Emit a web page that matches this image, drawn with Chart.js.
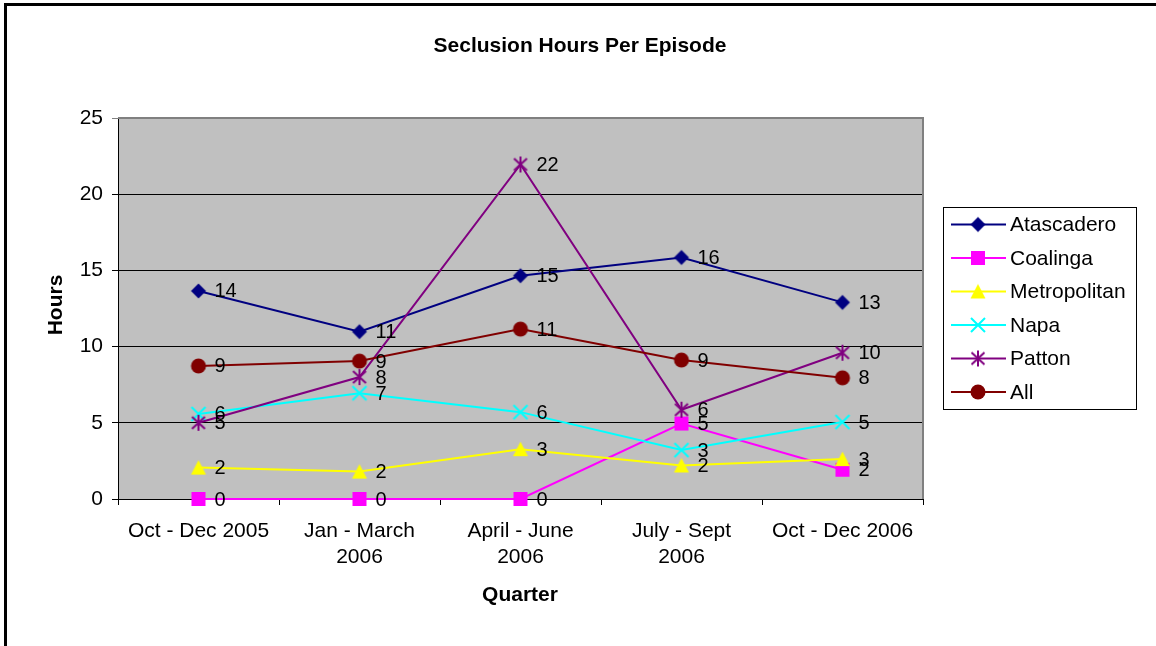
<!DOCTYPE html>
<html>
<head>
<meta charset="utf-8">
<title>Seclusion Hours Per Episode</title>
<script src="https://cdn.jsdelivr.net/npm/chart.js@4.4.1/dist/chart.umd.min.js"></script>
<style>
    html, body { margin: 0; padding: 0; background: #fff; }
    #wrap { width: 1156px; height: 646px; position: relative; }
</style>
</head>
<body>
<div id="wrap"><canvas id="chart" width="1156" height="646"></canvas></div>
<script>
// Dati
const quarters = [['Oct - Dec 2005'], ['Jan - March', '2006'], ['April - June', '2006'], ['July - Sept', '2006'], ['Oct - Dec 2006']];
const seriesNames = ['Atascadero', 'Coalinga', 'Metropolitan', 'Napa', 'Patton', 'All'];
const atascadero = [13.65, 10.98, 14.65, 15.85, 12.9];
const coalinga = [0, 0, 0, 4.95, 1.92];
const metropolitan = [2.06, 1.8, 3.27, 2.2, 2.62];
const napa = [5.58, 6.94, 5.7, 3.21, 5.05];
const patton = [5.0, 8.0, 21.95, 5.86, 9.6];
const all = [8.73, 9.05, 11.15, 9.12, 7.95];
const yTicks = [0, 5, 10, 15, 20, 25];

// Colori delle serie
const colors = ['#000080', '#FF00FF', '#FFFF00', '#00FFFF', '#800080', '#800000'];

// Crea i marcatori come piccoli canvas
function makeMarker(kind, color) {
    const c = document.createElement('canvas');
    c.width = 18;
    c.height = 18;
    const g = c.getContext('2d');
    const m = 9;
    g.fillStyle = color;
    g.strokeStyle = color;
    g.lineWidth = 2;
    g.beginPath();
    if (kind === 'diamond') {
        g.moveTo(m, m - 7.5); g.lineTo(m + 7.5, m); g.lineTo(m, m + 7.5); g.lineTo(m - 7.5, m);
        g.closePath(); g.fill();
    } else if (kind === 'square') {
        g.rect(m - 7, m - 7, 14, 14); g.fill();
    } else if (kind === 'triangle') {
        g.moveTo(m, m - 7.5); g.lineTo(m + 7.5, m + 7); g.lineTo(m - 7.5, m + 7);
        g.closePath(); g.fill();
    } else if (kind === 'x') {
        g.moveTo(m - 7, m - 7); g.lineTo(m + 7, m + 7);
        g.moveTo(m + 7, m - 7); g.lineTo(m - 7, m + 7);
        g.stroke();
    } else if (kind === 'star') {
        g.moveTo(m - 6.5, m - 6); g.lineTo(m + 6.5, m + 6);
        g.moveTo(m + 6.5, m - 6); g.lineTo(m - 6.5, m + 6);
        g.moveTo(m, m - 8); g.lineTo(m, m + 8);
        g.stroke();
    } else {
        g.arc(m, m, 7.5, 0, Math.PI * 2); g.fill();
    }
    return c;
}

const markers = [
    makeMarker('diamond', colors[0]),
    makeMarker('square', colors[1]),
    makeMarker('triangle', colors[2]),
    makeMarker('x', colors[3]),
    makeMarker('star', colors[4]),
    makeMarker('circle', colors[5])
];

const values = [atascadero, coalinga, metropolitan, napa, patton, all];

const datasets = seriesNames.map((name, i) => ({
    label: name,
    data: values[i],
    borderColor: colors[i],
    backgroundColor: colors[i],
    borderWidth: 2,
    pointStyle: markers[i],
    pointRadius: 8,
    tension: 0,
    clip: false,
    order: seriesNames.length - 1 - i
}));

// Sfondo grigio, cornice e titoli
const decorPlugin = {
    id: 'decor',
    beforeDraw(chart) {
        const { ctx, chartArea: a } = chart;
        ctx.save();
        ctx.fillStyle = '#fff';
        ctx.fillRect(0, 0, chart.width, chart.height);
        ctx.fillStyle = '#000';
        ctx.fillRect(4, 3, 3, chart.height);
        ctx.fillRect(4, 3, chart.width, 3);
        ctx.fillStyle = '#C0C0C0';
        ctx.fillRect(a.left, a.top, a.right - a.left, a.bottom - a.top);
        ctx.restore();
    },
    beforeDatasetsDraw(chart) {
        const { ctx, chartArea: a } = chart;
        ctx.save();
        ctx.strokeStyle = '#808080';
        ctx.lineWidth = 2;
        ctx.beginPath();
        ctx.moveTo(a.left, a.top);
        ctx.lineTo(a.right, a.top);
        ctx.lineTo(a.right, a.bottom);
        ctx.stroke();
        ctx.restore();
    },
    afterDraw(chart) {
        const { ctx } = chart;
        ctx.save();
        ctx.fillStyle = '#000';
        ctx.textAlign = 'center';
        ctx.textBaseline = 'middle';
        ctx.font = 'bold 21px "Liberation Sans", Arial, sans-serif';
        ctx.fillText('Seclusion Hours Per Episode', 580, 46);
        ctx.fillText('Quarter', 520, 595);
        ctx.translate(56, 305);
        ctx.rotate(-Math.PI / 2);
        ctx.fillText('Hours', 0, 0);
        ctx.restore();
    }
};

// Etichette dei valori accanto ai punti
const labelsPlugin = {
    id: 'valueLabels',
    afterDatasetsDraw(chart) {
        const { ctx } = chart;
        ctx.save();
        ctx.fillStyle = '#000';
        ctx.font = '20px "Liberation Sans", Arial, sans-serif';
        ctx.textAlign = 'left';
        ctx.textBaseline = 'middle';
        chart.data.datasets.forEach((ds, i) => {
            const meta = chart.getDatasetMeta(i);
            meta.data.forEach((pt, j) => {
                ctx.fillText(String(Math.round(ds.data[j])), pt.x + 16, pt.y + 1);
            });
        });
        ctx.restore();
    }
};

// Legenda disegnata a mano
const legendPlugin = {
    id: 'customLegend',
    afterDraw(chart) {
        const { ctx } = chart;
        const box = { x: 943.5, y: 207.5, w: 193, h: 202 };
        ctx.save();
        ctx.fillStyle = '#fff';
        ctx.fillRect(box.x, box.y, box.w, box.h);
        ctx.strokeStyle = '#000';
        ctx.lineWidth = 1;
        ctx.strokeRect(box.x, box.y, box.w, box.h);
        ctx.font = '21px "Liberation Sans", Arial, sans-serif';
        ctx.textBaseline = 'middle';
        ctx.textAlign = 'left';
        seriesNames.forEach((name, i) => {
            const y = 224.5 + i * 33.5;
            ctx.strokeStyle = colors[i];
            ctx.lineWidth = 2;
            ctx.beginPath();
            ctx.moveTo(951, y);
            ctx.lineTo(1006, y);
            ctx.stroke();
            ctx.drawImage(markers[i], 978 - 9, y - 9);
            ctx.fillStyle = '#000';
            ctx.fillText(name, 1010, y + 1);
        });
        ctx.restore();
    }
};

const ctx = document.getElementById('chart').getContext('2d');
const chart = new Chart(ctx, {
    type: 'line',
    data: { labels: quarters, datasets },
    options: {
        responsive: false,
        animation: false,
        layout: { padding: { left: 0, top: 118, right: 233, bottom: 0 } },
        plugins: {
            legend: { display: false },
            title: { display: false },
            tooltip: { enabled: false }
        },
        scales: {
            x: {
                offset: true,
                afterFit(scale) { scale.height = 147; },
                grid: {
                    offset: true,
                    drawOnChartArea: false,
                    tickLength: 6,
                    color: '#000'
                },
                border: { color: '#000', width: 1 },
                ticks: {
                    color: '#000',
                    padding: 13,
                    maxRotation: 0,
                    autoSkip: false,
                    font: { family: '"Liberation Sans", Arial, sans-serif', size: 21, lineHeight: 1.25 }
                }
            },
            y: {
                min: 0,
                max: 25,
                afterFit(scale) { scale.width = 118; },
                afterBuildTicks(scale) { scale.ticks = yTicks.map(v => ({ value: v })); },
                grid: {
                    tickLength: 6,
                    color: (c) => (c.tick && c.tick.value === 25 ? '#808080' : '#000')
                },
                border: { color: '#000', width: 1 },
                ticks: {
                    color: '#000',
                    padding: 9,
                    font: { family: '"Liberation Sans", Arial, sans-serif', size: 21 }
                }
            }
        }
    },
    plugins: [decorPlugin, labelsPlugin, legendPlugin]
});
</script>
</body>
</html>
